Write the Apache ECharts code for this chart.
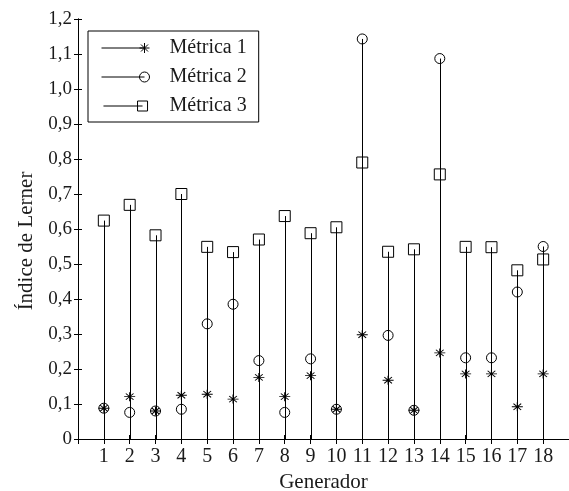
<!DOCTYPE html>
<html><head><meta charset="utf-8">
<script src="https://cdn.jsdelivr.net/npm/echarts@6/dist/echarts.min.js"></script>
<style>html,body{margin:0;padding:0;background:#fff}#c{width:569px;height:491px}</style>
</head><body><div id="c"></div>
<script>
const generators = [1,2,3,4,5,6,7,8,9,10,11,12,13,14,15,16,17,18];
const metrica1 = [0.088,0.121,0.080,0.125,0.128,0.114,0.176,0.121,0.181,0.085,0.298,0.168,0.082,0.246,0.186,0.186,0.092,0.186];
const metrica2 = [0.088,0.076,0.080,0.085,0.329,0.385,0.224,0.076,0.229,0.085,1.143,0.296,0.082,1.087,0.232,0.232,0.420,0.550];
const metrica3 = [0.624,0.669,0.582,0.700,0.549,0.534,0.570,0.637,0.588,0.605,0.790,0.535,0.542,0.756,0.549,0.548,0.482,0.513];
const seriesNames = ['Métrica 1','Métrica 2','Métrica 3'];

const FONT = 'Liberation Serif';
const TXT = '#1a1a1a';
const asteriskPath = 'path://M0,5L10,5M5,0L5,10M1.5,1.5L8.5,8.5M1.5,8.5L8.5,1.5';

function stem(vals){
  return {
    type:'custom', silent:true, z:1,
    data: generators.map((g,i)=>[g, vals[i]]),
    renderItem:(params, api)=>{
      const p0 = api.coord([api.value(0), 0]);
      const p1 = api.coord([api.value(0), api.value(1)]);
      const x = Math.round(p0[0]) + 0.5;
      return {type:'line', shape:{x1:x, y1:p0[1], x2:x, y2:p1[1]}, style:{stroke:'#000', lineWidth:1}};
    }
  };
}
function markers(name, vals, symbol, size){
  return {
    type:'scatter', name:name, z:3, symbol:symbol, symbolSize:size,
    data: generators.map((g,i)=>[g, vals[i]]),
    itemStyle:{color:'none', borderColor:'#000', borderWidth:1, opacity:1},
    emphasis:{disabled:true}
  };
}
const legItem = {color:'none', borderColor:'#000', borderWidth:1};
const chart = echarts.init(document.getElementById('c'));
chart.setOption({
  animation:false,
  backgroundColor:'#fff',
  grid:{left:78, top:19, right:0, bottom:52, containLabel:false, outerBoundsMode:'none'},
  legend:{
    orient:'vertical', left:88, top:31,
    padding:[7,12,6,11], itemGap:9, itemWidth:48, itemHeight:10,
    borderColor:'#000', borderWidth:1, backgroundColor:'#fff',
    textStyle:{fontFamily:FONT, fontSize:20, color:TXT, padding:[0,0,0,15]},
    selectedMode:false,
    data:[
      {name:seriesNames[0], icon:'path://M0,5L43,5M38,5L48,5M43,0L43,10M39.5,1.5L46.5,8.5M39.5,8.5L46.5,1.5', itemStyle:legItem},
      {name:seriesNames[1], icon:'path://M0,5L43,5M38,5a5,5 0 1,0 10,0a5,5 0 1,0 -10,0', itemStyle:legItem},
      {name:seriesNames[2], icon:'path://M0,5L43,5M37.5,-0.5L48.5,-0.5L48.5,10.5L37.5,10.5Z', itemStyle:legItem}
    ]
  },
  xAxis:[{
    type:'value', min:0, max:19, interval:1, position:'bottom',
    axisLine:{lineStyle:{color:'#000', width:1}},
    axisTick:{show:true, inside:true, length:4, lineStyle:{color:'#000'}},
    splitLine:{show:false},
    axisLabel:{fontFamily:FONT, fontSize:20, color:TXT, margin:8,
      formatter:v=> (v>=1 && v<=18) ? String(v) : ''},
    name:'Generador', nameLocation:'middle', nameGap:33,
    nameTextStyle:{fontFamily:FONT, fontSize:21, color:TXT}
  },{
    type:'value', min:0, max:19, interval:1, position:'top',
    axisLine:{lineStyle:{color:'#000', width:1}},
    axisTick:{show:true, inside:true, length:5, lineStyle:{color:'#000'}},
    axisLabel:{show:false}, splitLine:{show:false}
  }],
  yAxis:[{
    type:'value', min:0, max:1.2, interval:0.1, position:'left',
    axisLine:{show:true, lineStyle:{color:'#000', width:1}},
    axisTick:{show:true, inside:true, length:4, lineStyle:{color:'#000'}},
    splitLine:{show:false},
    axisLabel:{fontFamily:FONT, fontSize:19, color:TXT, margin:6,
      formatter:v=> v===0 ? '0' : v.toFixed(1).replace('.', ',')},
    name:'Índice de Lerner', nameLocation:'middle', nameGap:38, nameRotate:90,
    nameTextStyle:{fontFamily:FONT, fontSize:21, color:TXT, padding:[0,24,0,0]}
  },{
    type:'value', min:0, max:1.2, interval:0.1, position:'right',
    axisLine:{show:true, lineStyle:{color:'#000', width:1}},
    axisTick:{show:true, inside:true, length:4, lineStyle:{color:'#000'}},
    axisLabel:{show:false}, splitLine:{show:false}
  }],
  series:[
    stem(metrica1), stem(metrica2), stem(metrica3),
    markers(seriesNames[0], metrica1, asteriskPath, [11,9]),
    markers(seriesNames[1], metrica2, 'circle', 10),
    markers(seriesNames[2], metrica3, 'rect', 11)
  ]
});
</script></body></html>
